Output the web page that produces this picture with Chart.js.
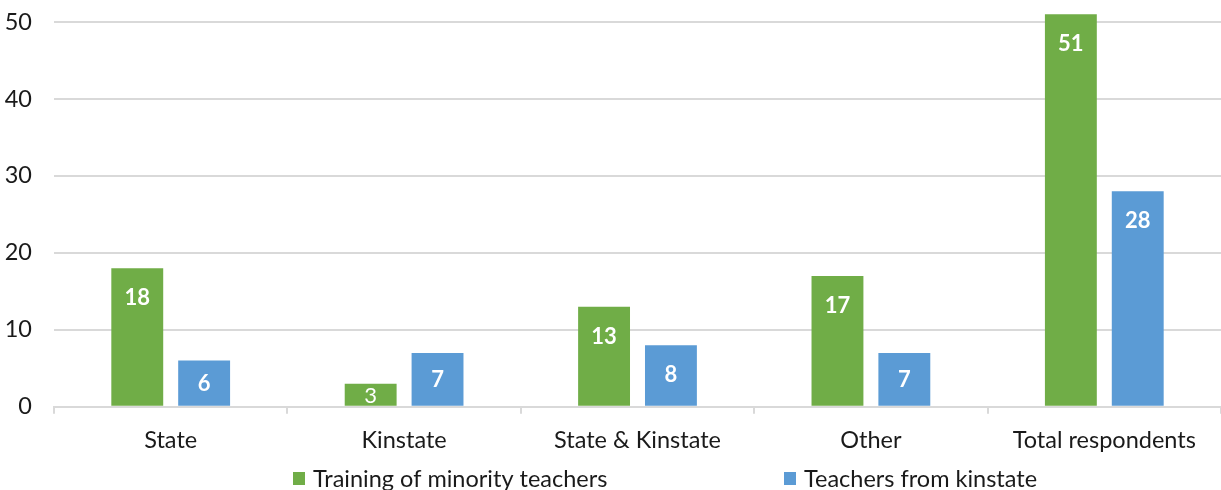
<!DOCTYPE html>
<html>
<head>
<meta charset="utf-8">
<script src="https://cdn.jsdelivr.net/npm/chart.js@4/dist/chart.umd.min.js"></script>
<style>
  html, body { margin: 0; padding: 0; background: #fff; }
  #wrap { width: 1221px; height: 490px; position: relative; }
</style>
</head>
<body>
<div id="wrap"><canvas id="c"></canvas></div>
<script>
const categories = ["State", "Kinstate", "State & Kinstate", "Other", "Total respondents"];
const seriesNames = ["Training of minority teachers", "Teachers from kinstate"];
const trainingValues = [18, 3, 13, 17, 51];
const kinstateValues = [6, 7, 8, 7, 28];
const yTicks = [0, 10, 20, 30, 40, 50];

const GREEN = "#70AD47";
const BLUE = "#5B9BD5";
const GRID = "#D9D9D9";
const TEXT = "#1a1a1a";
const FONT = "Lato, 'Open Sans', sans-serif";
const FSIZE = 23.5;

const valueLabels = {
  id: "valueLabels",
  afterDatasetsDraw(chart) {
    const ctx = chart.ctx;
    ctx.save();
    ctx.fillStyle = "#ffffff";
    ctx.textAlign = "center";
    ctx.textBaseline = "middle";
    chart.data.datasets.forEach((ds, di) => {
      const meta = chart.getDatasetMeta(di);
      meta.data.forEach((el, i) => {
        const h = el.base - el.y;
        const small = h < 40;
        ctx.font = (small ? "" : "bold ") + "22px " + FONT;
        const y = el.y + Math.min(29, h / 2);
        ctx.fillText(String(ds.data[i]), el.x, y + 1);
      });
    });
    ctx.restore();
  }
};

const customLegend = {
  id: "customLegend",
  afterDraw(chart) {
    const ctx = chart.ctx;
    const xs = [293, 784];
    const yc = 478;
    ctx.save();
    ctx.font = FSIZE + "px " + FONT;
    ctx.textBaseline = "middle";
    ctx.textAlign = "left";
    chart.data.datasets.forEach((ds, i) => {
      ctx.fillStyle = ds.backgroundColor;
      ctx.fillRect(xs[i], yc - 6, 12, 13);
      ctx.fillStyle = TEXT;
      ctx.fillText(ds.label, xs[i] + 20, yc + 1);
    });
    ctx.restore();
  }
};

new Chart(document.getElementById("c"), {
  type: "bar",
  data: {
    labels: categories,
    datasets: [
      { label: seriesNames[0], data: trainingValues, backgroundColor: GREEN, clip: false,
        categoryPercentage: 0.573, barPercentage: 0.776 },
      { label: seriesNames[1], data: kinstateValues, backgroundColor: BLUE, clip: false,
        categoryPercentage: 0.573, barPercentage: 0.776 }
    ]
  },
  options: {
    responsive: true,
    maintainAspectRatio: false,
    animation: false,
    layout: { padding: { top: 22, left: 5, right: 0, bottom: 22 } },
    plugins: {
      legend: { display: false },
      tooltip: { enabled: false }
    },
    scales: {
      x: {
        grid: { display: true, drawOnChartArea: false, drawTicks: true, tickLength: 7, color: GRID, lineWidth: 2, offset: true },
        border: { display: true, color: GRID, width: 2 },
        ticks: { color: TEXT, font: { family: FONT, size: FSIZE }, padding: 13, maxRotation: 0, autoSkip: false }
      },
      y: {
        min: 0, max: 50,
        afterBuildTicks(axis) { axis.ticks = yTicks.map(v => ({ value: v })); },
        afterFit(axis) { axis.width = 49; axis.paddingTop = 0; axis.paddingBottom = 0; },
        grid: { color: GRID, lineWidth: 2, drawTicks: false },
        border: { display: false },
        ticks: { color: TEXT, font: { family: FONT, size: FSIZE }, padding: 22 }
      }
    }
  },
  plugins: [valueLabels, customLegend]
});
</script>
</body>
</html>
